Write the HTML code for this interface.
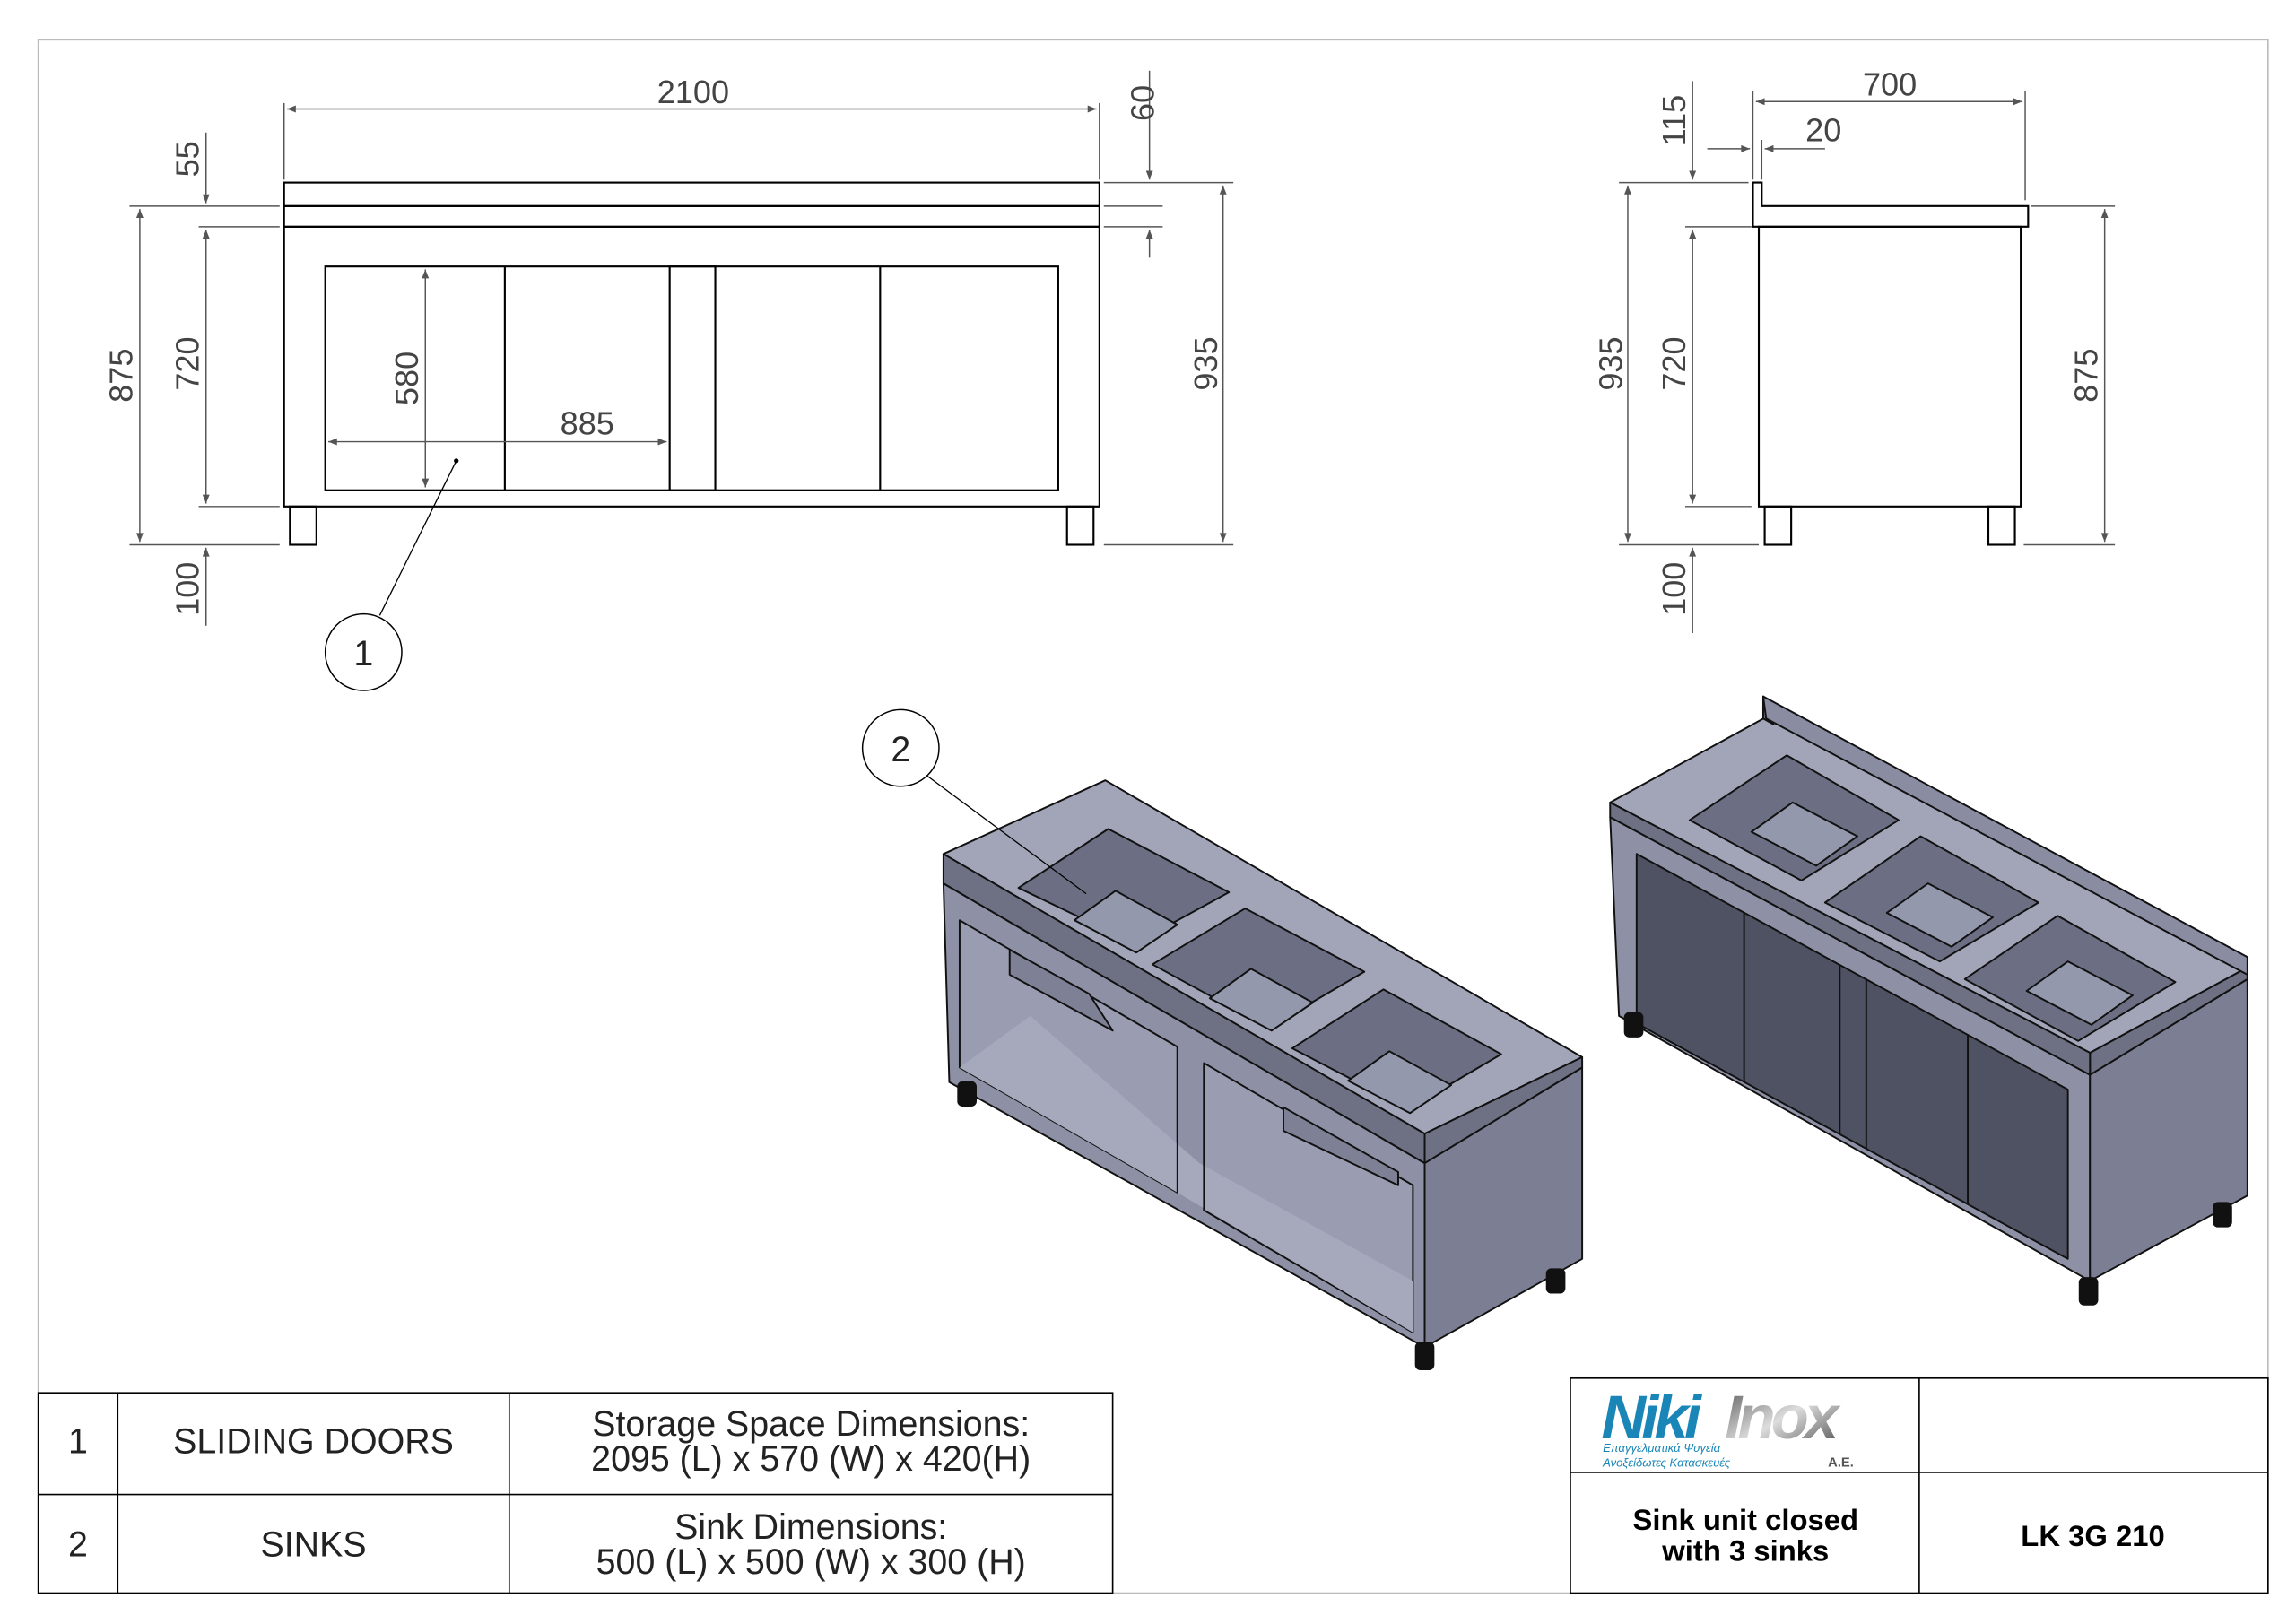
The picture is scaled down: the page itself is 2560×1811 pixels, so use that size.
<!DOCTYPE html>
<html><head><meta charset="utf-8"><style>
html,body{margin:0;padding:0;background:#fff;}
svg{display:block;}
text{font-family:"Liberation Sans","DejaVu Sans",sans-serif;}
</style></head><body>
<svg width="2560" height="1811" viewBox="0 0 1560 1103" preserveAspectRatio="none" xmlns="http://www.w3.org/2000/svg">
<defs>
<marker id="a" viewBox="0 0 10 10" refX="10" refY="5" markerWidth="10" markerHeight="6" orient="auto-start-reverse" markerUnits="userSpaceOnUse"><path d="M0,1 L10,5 L0,9 z" fill="#555"/></marker>
<linearGradient id="g" x1="0" y1="0" x2="1" y2="1"><stop offset="0" stop-color="#555"/><stop offset="0.5" stop-color="#ddd"/><stop offset="1" stop-color="#444"/></linearGradient>
</defs>
<rect x="26" y="27" width="1515" height="1055" fill="none" stroke="#bbb" stroke-width="1"/>

<!-- FRONT VIEW -->
<g stroke="#000" stroke-width="1.3" fill="none">
<rect x="193" y="124" width="554" height="16"/>
<rect x="193" y="140" width="554" height="14"/>
<rect x="193" y="154" width="554" height="190"/>
<rect x="221" y="181" width="498" height="152"/>
<line x1="343" y1="181" x2="343" y2="333"/>
<rect x="455" y="181" width="31" height="152"/>
<line x1="598" y1="181" x2="598" y2="333"/>
<rect x="197" y="344" width="18" height="26"/>
<rect x="725" y="344" width="18" height="26"/>
</g>
<g stroke="#555" stroke-width="0.9" fill="none">
<line x1="193" y1="70" x2="193" y2="122"/><line x1="747" y1="70" x2="747" y2="122"/>
<line x1="195" y1="74" x2="745" y2="74" marker-start="url(#a)" marker-end="url(#a)"/>
<line x1="88" y1="140" x2="190" y2="140"/><line x1="135" y1="154" x2="190" y2="154"/>
<line x1="135" y1="344" x2="190" y2="344"/><line x1="88" y1="370" x2="190" y2="370"/>
<line x1="95" y1="142" x2="95" y2="368" marker-start="url(#a)" marker-end="url(#a)"/>
<line x1="140" y1="156" x2="140" y2="342" marker-start="url(#a)" marker-end="url(#a)"/>
<line x1="140" y1="90" x2="140" y2="138" marker-end="url(#a)"/>
<line x1="140" y1="425" x2="140" y2="372" marker-end="url(#a)"/>
<line x1="750" y1="124" x2="838" y2="124"/><line x1="750" y1="140" x2="790" y2="140"/>
<line x1="750" y1="154" x2="790" y2="154"/><line x1="750" y1="370" x2="838" y2="370"/>
<line x1="781" y1="48" x2="781" y2="122" marker-end="url(#a)"/>
<line x1="781" y1="175" x2="781" y2="156" marker-end="url(#a)"/>
<line x1="831" y1="126" x2="831" y2="368" marker-start="url(#a)" marker-end="url(#a)"/>
<line x1="289" y1="183" x2="289" y2="331" marker-start="url(#a)" marker-end="url(#a)"/>
<line x1="223" y1="300" x2="453" y2="300" marker-start="url(#a)" marker-end="url(#a)"/>
</g>
<g fill="#444" font-size="22">
<text x="471" y="70" text-anchor="middle">2100</text>
<text x="399" y="295" text-anchor="middle">885</text>
<text transform="translate(784,70) rotate(-90)" text-anchor="middle">60</text>
<text transform="translate(827,247) rotate(-90)" text-anchor="middle">935</text>
<text transform="translate(90,255) rotate(-90)" text-anchor="middle">875</text>
<text transform="translate(135,247) rotate(-90)" text-anchor="middle">720</text>
<text transform="translate(135,108) rotate(-90)" text-anchor="middle">55</text>
<text transform="translate(135,400) rotate(-90)" text-anchor="middle">100</text>
<text transform="translate(284,257) rotate(-90)" text-anchor="middle">580</text>
</g>
<line x1="310" y1="313" x2="258" y2="418" stroke="#000" stroke-width="0.8"/>
<circle cx="310" cy="313" r="1.6" fill="#000"/>
<circle cx="247" cy="443" r="26" fill="none" stroke="#000" stroke-width="0.9"/>
<text x="247" y="452" text-anchor="middle" font-size="24" fill="#222">1</text>

<!-- SIDE VIEW -->
<g stroke="#000" stroke-width="1.3" fill="none">
<path d="M1191,124 L1197,124 L1197,140 L1378,140 L1378,154 L1191,154 Z"/>
<rect x="1195" y="154" width="178" height="190"/>
<rect x="1199" y="344" width="18" height="26"/>
<rect x="1351" y="344" width="18" height="26"/>
</g>
<g stroke="#555" stroke-width="0.9" fill="none">
<line x1="1191" y1="62" x2="1191" y2="122"/><line x1="1376" y1="62" x2="1376" y2="136"/>
<line x1="1193" y1="69" x2="1374" y2="69" marker-start="url(#a)" marker-end="url(#a)"/>
<line x1="1160" y1="101" x2="1189" y2="101" marker-end="url(#a)"/>
<line x1="1240" y1="101" x2="1199" y2="101" marker-end="url(#a)"/>
<line x1="1197" y1="95" x2="1197" y2="122"/>
<line x1="1100" y1="124" x2="1188" y2="124"/><line x1="1145" y1="154" x2="1190" y2="154"/>
<line x1="1145" y1="344" x2="1190" y2="344"/><line x1="1100" y1="370" x2="1195" y2="370"/>
<line x1="1380" y1="140" x2="1437" y2="140"/><line x1="1375" y1="370" x2="1437" y2="370"/>
<line x1="1106" y1="126" x2="1106" y2="368" marker-start="url(#a)" marker-end="url(#a)"/>
<line x1="1150" y1="156" x2="1150" y2="342" marker-start="url(#a)" marker-end="url(#a)"/>
<line x1="1150" y1="55" x2="1150" y2="122" marker-end="url(#a)"/>
<line x1="1150" y1="430" x2="1150" y2="372" marker-end="url(#a)"/>
<line x1="1430" y1="142" x2="1430" y2="368" marker-start="url(#a)" marker-end="url(#a)"/>
</g>
<g fill="#444" font-size="22">
<text x="1284" y="65" text-anchor="middle">700</text>
<text x="1239" y="96" text-anchor="middle">20</text>
<text transform="translate(1145,82) rotate(-90)" text-anchor="middle">115</text>
<text transform="translate(1102,247) rotate(-90)" text-anchor="middle">935</text>
<text transform="translate(1145,247) rotate(-90)" text-anchor="middle">720</text>
<text transform="translate(1145,400) rotate(-90)" text-anchor="middle">100</text>
<text transform="translate(1425,255) rotate(-90)" text-anchor="middle">875</text>
</g>

<!-- ISO LEFT (open) -->
<g stroke="#111" stroke-width="1.2" stroke-linejoin="round">
<polygon points="641,600 968,790 968,915 645,735" fill="#8e91a6"/>
<polygon points="652,625 800,711 800,810 652,725" fill="#9a9db1"/>
<polygon points="818,722 960,805 960,905 818,822" fill="#9a9db1"/>
<polygon points="652,725 800,810 960,905 960,870 815,790 700,690" fill="#a6a9bb" stroke="none"/>
<line x1="800" y1="711" x2="800" y2="810"/><line x1="818" y1="722" x2="818" y2="822"/>
<polygon points="968,790 1075,725 1075,855 968,915" fill="#7c7f93"/>
<polygon points="641,580 751,530 1075,718 968,770" fill="#a2a5b8"/>
<polygon points="641,580 968,770 968,790 641,600" fill="#6e7184"/>
<polygon points="968,770 1075,718 1075,725 968,790" fill="#6e7184"/>
<polygon points="692,603 753,563 835,606 771,641" fill="#6c6f83"/>
<polygon points="783,655 846,617 927,660 862,698" fill="#6c6f83"/>
<polygon points="878,712 940,672 1020,716 957,753" fill="#6c6f83"/>
<polygon points="730,625 758,605 800,628 772,647" fill="#9498ad"/>
<polygon points="822,678 850,658 892,681 864,700" fill="#9498ad"/>
<polygon points="916,734 944,714 986,737 958,756" fill="#9498ad"/>
<polygon points="686,645 740,675 756,700 686,662" fill="#7e8195"/>
<polygon points="872,752 950,796 950,805 872,768" fill="#7e8195"/>
<rect x="651" y="735" width="12" height="16" rx="3" fill="#111"/>
<rect x="1051" y="862" width="12" height="16" rx="3" fill="#111"/>
<rect x="962" y="912" width="12" height="18" rx="3" fill="#111"/>
</g>
<line x1="738" y1="607" x2="630" y2="527" stroke="#000" stroke-width="0.8"/>
<circle cx="612" cy="508" r="26" fill="#fff" stroke="#000" stroke-width="0.9"/>
<text x="612" y="517" text-anchor="middle" font-size="24" fill="#222">2</text>

<!-- ISO RIGHT (closed) -->
<g stroke="#111" stroke-width="1.2" stroke-linejoin="round">
<polygon points="1094,555 1420,730 1420,870 1100,690" fill="#8e91a6"/>
<polygon points="1112,580 1405,740 1405,855 1112,695" fill="#4f5263"/>
<line x1="1185" y1="620" x2="1185" y2="735"/><line x1="1250" y1="655" x2="1250" y2="770"/>
<line x1="1268" y1="665" x2="1268" y2="780"/><line x1="1337" y1="703" x2="1337" y2="818"/>
<polygon points="1420,730 1527,665 1527,812 1420,870" fill="#7c7f93"/>
<polygon points="1420,715 1527,657 1527,665 1420,730" fill="#6e7184"/>
<polygon points="1094,545 1200,487 1527,657 1420,715" fill="#a2a5b8"/>
<polygon points="1198,473 1205,478 1205,492 1198,488" fill="#6e7184"/>
<polygon points="1198,473 1527,650 1527,662 1200,488" fill="#8a8da1"/>
<polygon points="1094,545 1420,715 1420,730 1094,555" fill="#6e7184"/>
<polygon points="1148,557 1214,513 1290,557 1224,598" fill="#6c6f83"/>
<polygon points="1240,613 1305,568 1385,613 1318,653" fill="#6c6f83"/>
<polygon points="1335,665 1398,622 1478,667 1412,707" fill="#6c6f83"/>
<polygon points="1190,565 1218,545 1262,568 1234,588" fill="#9498ad"/>
<polygon points="1282,620 1310,600 1354,623 1326,643" fill="#9498ad"/>
<polygon points="1377,673 1405,653 1449,676 1421,696" fill="#9498ad"/>
<rect x="1104" y="688" width="12" height="16" rx="3" fill="#111"/>
<rect x="1504" y="817" width="12" height="16" rx="3" fill="#111"/>
<rect x="1413" y="868" width="12" height="18" rx="3" fill="#111"/>
</g>

<!-- PARTS TABLE -->
<g stroke="#000" stroke-width="1" fill="none">
<rect x="26" y="946" width="730" height="136"/>
<line x1="26" y1="1015" x2="756" y2="1015"/>
<line x1="80" y1="946" x2="80" y2="1082"/>
<line x1="346" y1="946" x2="346" y2="1082"/>
</g>
<g fill="#222" font-size="24" text-anchor="middle">
<text x="53" y="987">1</text>
<text x="213" y="987">SLIDING DOORS</text>
<text x="551" y="975">Storage Space Dimensions:</text>
<text x="551" y="999">2095 (L) x 570 (W) x 420(H)</text>
<text x="53" y="1057">2</text>
<text x="213" y="1057">SINKS</text>
<text x="551" y="1045">Sink Dimensions:</text>
<text x="551" y="1069">500 (L) x 500 (W) x 300 (H)</text>
</g>

<!-- TITLE BLOCK -->
<g stroke="#000" stroke-width="1" fill="none">
<rect x="1067" y="936" width="474" height="146"/>
<line x1="1067" y1="1000" x2="1541" y2="1000"/>
<line x1="1304" y1="936" x2="1304" y2="1082"/>
</g>
<text x="1088" y="977" font-size="42" font-weight="bold" font-style="italic" fill="#1a86b8" letter-spacing="-3">Niki</text>
<text x="1172" y="977" font-size="42" font-weight="bold" font-style="italic" fill="url(#g)" letter-spacing="-3">Inox</text>
<text x="1089" y="986" font-size="8" font-style="italic" fill="#1a86b8">Επαγγελματικά Ψυγεία</text>
<text x="1089" y="996" font-size="8" font-style="italic" fill="#1a86b8">Ανοξείδωτες Κατασκευές</text>
<text x="1242" y="996" font-size="9" font-weight="bold" fill="#555">A.E.</text>
<g fill="#000" font-size="20" font-weight="bold" text-anchor="middle">
<text x="1186" y="1039">Sink unit closed</text>
<text x="1186" y="1060">with 3 sinks</text>
<text x="1422" y="1050">LK 3G 210</text>
</g>
</svg>
</body></html>
